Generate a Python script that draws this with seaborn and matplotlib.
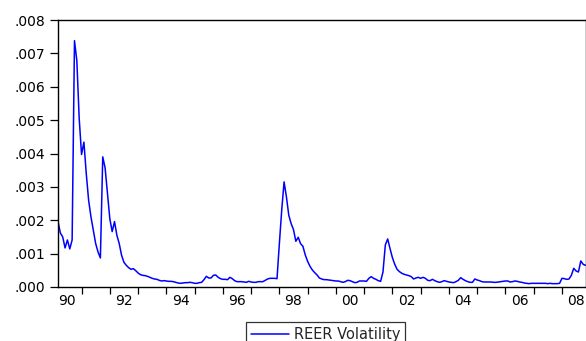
import pandas as pd
import numpy as np
import matplotlib
matplotlib.use('Agg')
import matplotlib.pyplot as plt
import seaborn as sns

# monthly REER volatility, starting 1990M03
start_month = '1990-03-01'
series_name = 'REER Volatility'
reer_vol = [
    0.00196, 0.00162, 0.00150, 0.00117, 0.00141, 0.00114, 0.00141, 0.00738, 0.00678, 0.00505,
    0.00397, 0.00434, 0.00340, 0.00260, 0.00210, 0.00170, 0.00130, 0.00105, 0.00087, 0.00390,
    0.00357, 0.00280, 0.00205, 0.00166, 0.00196, 0.00155, 0.00130, 0.00095, 0.00074, 0.00065,
    0.00058, 0.00053, 0.00055, 0.00049, 0.00042, 0.00037, 0.00035, 0.00034, 0.00032, 0.00029,
    0.00026, 0.00024, 0.00023, 0.00020, 0.00018, 0.00019, 0.00018, 0.00017, 0.00017, 0.00016,
    0.00014, 0.00012, 0.00011, 0.00012, 0.00013, 0.00013, 0.00014, 0.00013, 0.00011, 0.00011,
    0.00013, 0.00014, 0.00022, 0.00032, 0.00027, 0.00027, 0.00035, 0.00036, 0.00029, 0.00025,
    0.00023, 0.00023, 0.00022, 0.00029, 0.00025, 0.00019, 0.00016, 0.00016, 0.00016, 0.00015,
    0.00014, 0.00017, 0.00015, 0.00014, 0.00014, 0.00016, 0.00016, 0.00016, 0.00020, 0.00024,
    0.00026, 0.00026, 0.00026, 0.00025, 0.00130, 0.00230, 0.00315, 0.00270, 0.00215, 0.00190,
    0.00172, 0.00137, 0.00149, 0.00130, 0.00122, 0.00096, 0.00077, 0.00062, 0.00051, 0.00043,
    0.00036, 0.00027, 0.00024, 0.00022, 0.00022, 0.00021, 0.00020, 0.00019, 0.00018, 0.00018,
    0.00016, 0.00014, 0.00016, 0.00020, 0.00019, 0.00016, 0.00013, 0.00014, 0.00018, 0.00018,
    0.00018, 0.00017, 0.00026, 0.00031, 0.00026, 0.00023, 0.00019, 0.00017, 0.00045, 0.00126,
    0.00144, 0.00115, 0.00088, 0.00068, 0.00053, 0.00046, 0.00041, 0.00038, 0.00036, 0.00034,
    0.00031, 0.00024, 0.00027, 0.00029, 0.00026, 0.00029, 0.00026, 0.00020, 0.00019, 0.00023,
    0.00019, 0.00016, 0.00014, 0.00016, 0.00019, 0.00017, 0.00015, 0.00014, 0.00013, 0.00016,
    0.00020, 0.00028, 0.00023, 0.00019, 0.00016, 0.00014, 0.00014, 0.00024, 0.00021, 0.00019,
    0.00016, 0.00015, 0.00015, 0.00015, 0.00015, 0.00014, 0.00014, 0.00015, 0.00016, 0.00017,
    0.00018, 0.00018, 0.00015, 0.00016, 0.00018, 0.00017, 0.00015, 0.00014, 0.00012, 0.00011,
    0.00010, 0.00011, 0.00011, 0.00011, 0.00011, 0.00011, 0.00011, 0.00011, 0.00010, 0.00011,
    0.00010, 0.00010, 0.00010, 0.00011, 0.00026, 0.00025, 0.00023, 0.00024, 0.00035, 0.00056,
    0.00048, 0.00045, 0.00078, 0.00068, 0.00065,
]
y_ticks = [0.000, 0.001, 0.002, 0.003, 0.004, 0.005, 0.006, 0.007, 0.008]
y_labels = ['.000', '.001', '.002', '.003', '.004', '.005', '.006', '.007', '.008']
year_ticks = list(range(1991, 2009))
year_labels = ['90', '92', '94', '96', '98', '00', '02', '04', '06', '08']

dates = pd.date_range(start_month, periods=len(reer_vol), freq='MS')
df = pd.DataFrame({'t': dates.year + (dates.month - 1) / 12.0, 'vol': reer_vol})

sns.set_style('ticks')
plt.rcParams['font.family'] = ['DejaVu Sans']

fig = plt.figure(figsize=(5.86, 3.41), dpi=100)
ax = fig.add_axes([58 / 586, 54 / 341, 527.5 / 586, 267 / 341])

sns.lineplot(data=df, x='t', y='vol', ax=ax, color='#0000ff', linewidth=1.1,
             label=series_name)

ax.set_xlim(df['t'].iloc[0], df['t'].iloc[-1])
ax.set_ylim(0, 0.008)
ax.set_yticks(y_ticks)
ax.set_yticklabels(y_labels)
ax.set_xticks(year_ticks)
ax.set_xticklabels([])
# year labels sit in the middle of each even year
label_pos = [int('19' + s) + 0.5 if s[0] == '9' else int('20' + s) + 0.5 for s in year_labels]
ax.set_xticks(label_pos, minor=True)
ax.set_xticklabels(year_labels, minor=True)
ax.tick_params(axis='x', which='minor', length=0, pad=5, labelsize=10, colors='black')
ax.tick_params(axis='x', which='major', length=5, width=0.9, direction='out', color='black')
ax.tick_params(axis='y', length=6, width=0.9, direction='out', pad=3, labelsize=10,
               colors='black')
ax.set_xlabel('')
ax.set_ylabel('')
for sp in ax.spines.values():
    sp.set_visible(True)
    sp.set_color('black')
    sp.set_linewidth(1.0)

handles, labels = ax.get_legend_handles_labels()
ax.get_legend().remove()
leg = fig.legend(handles, labels, loc='upper center', bbox_to_anchor=(325.5 / 586, 1 - 322 / 341),
                 frameon=True, fancybox=False, fontsize=10.5, handlelength=2.6,
                 handletextpad=0.35, borderpad=0.35, borderaxespad=0)
leg.get_frame().set_edgecolor('black')
leg.get_frame().set_linewidth(0.9)

fig.savefig('out.png', dpi=100)
